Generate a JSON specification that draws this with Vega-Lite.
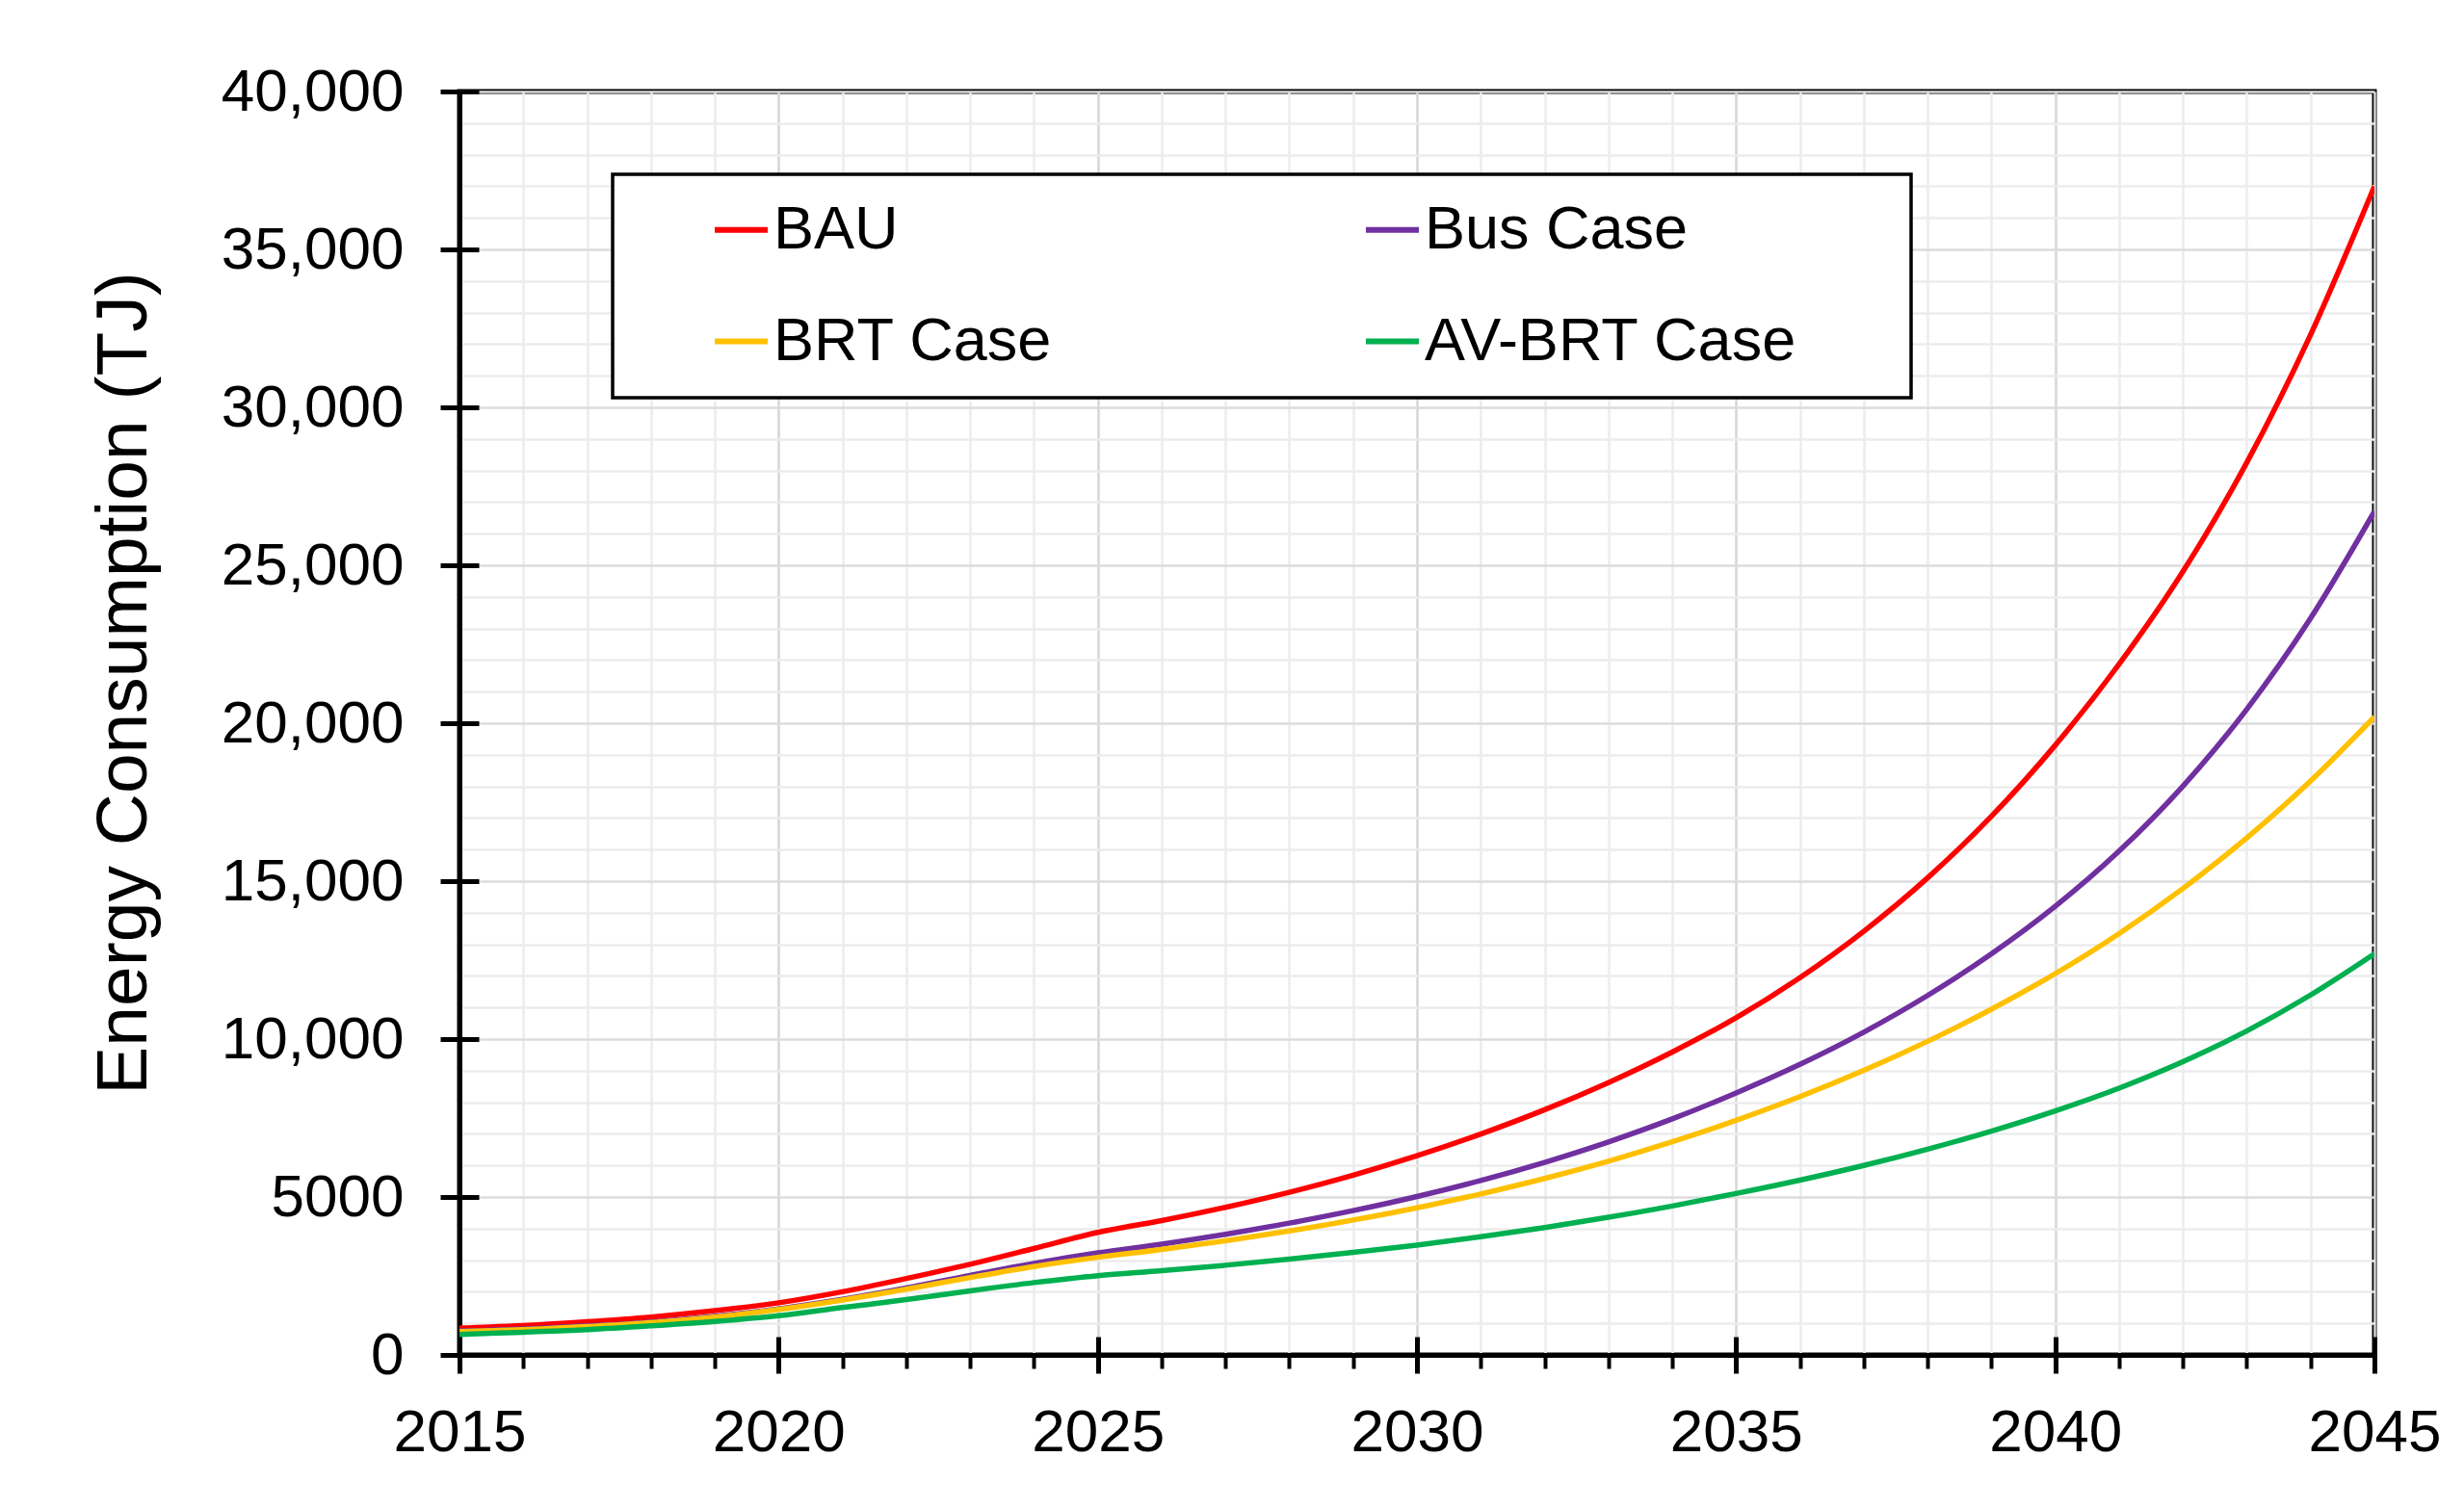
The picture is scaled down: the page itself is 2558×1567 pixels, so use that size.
{
  "$schema": "https://vega.github.io/schema/vega-lite/v6.json",
  "autosize": {"type": "none"},
  "padding": {"left": 477, "top": 95, "right": 93, "bottom": 160},
  "width": 1988,
  "height": 1312,
  "background": "white",
  "config": {
    "view": {"stroke": "black", "strokeWidth": 5},
    "font": "Liberation Sans",
    "axis": {"labelFont": "Liberation Sans", "titleFont": "Liberation Sans", "labelColor": "black", "titleColor": "black", "tickColor": "black", "domainColor": "black"},
    "legend": {"strokeWidth": 3.5}
  },
  "datasets": {
    "energy": [
      {"year": 2015, "series": "BAU", "value": 850}, {"year": 2016, "series": "BAU", "value": 930}, {"year": 2017, "series": "BAU", "value": 1050}, {"year": 2018, "series": "BAU", "value": 1200}, {"year": 2019, "series": "BAU", "value": 1400}, {"year": 2020, "series": "BAU", "value": 1650}, {"year": 2021, "series": "BAU", "value": 2000}, {"year": 2022, "series": "BAU", "value": 2420}, {"year": 2023, "series": "BAU", "value": 2870}, {"year": 2024, "series": "BAU", "value": 3370}, {"year": 2025, "series": "BAU", "value": 3880}, {"year": 2026, "series": "BAU", "value": 4252}, {"year": 2027, "series": "BAU", "value": 4673}, {"year": 2028, "series": "BAU", "value": 5150}, {"year": 2029, "series": "BAU", "value": 5691}, {"year": 2030, "series": "BAU", "value": 6306}, {"year": 2031, "series": "BAU", "value": 6993}, {"year": 2032, "series": "BAU", "value": 7762}, {"year": 2033, "series": "BAU", "value": 8624}, {"year": 2034, "series": "BAU", "value": 9590}, {"year": 2035, "series": "BAU", "value": 10674}, {"year": 2036, "series": "BAU", "value": 11944}, {"year": 2037, "series": "BAU", "value": 13413}, {"year": 2038, "series": "BAU", "value": 15103}, {"year": 2039, "series": "BAU", "value": 17052}, {"year": 2040, "series": "BAU", "value": 19303}, {"year": 2041, "series": "BAU", "value": 21870}, {"year": 2042, "series": "BAU", "value": 24800}, {"year": 2043, "series": "BAU", "value": 28250}, {"year": 2044, "series": "BAU", "value": 32300}, {"year": 2045, "series": "BAU", "value": 37000},
      {"year": 2015, "series": "Bus Case", "value": 760}, {"year": 2016, "series": "Bus Case", "value": 820}, {"year": 2017, "series": "Bus Case", "value": 920}, {"year": 2018, "series": "Bus Case", "value": 1040}, {"year": 2019, "series": "Bus Case", "value": 1220}, {"year": 2020, "series": "Bus Case", "value": 1460}, {"year": 2021, "series": "Bus Case", "value": 1760}, {"year": 2022, "series": "Bus Case", "value": 2120}, {"year": 2023, "series": "Bus Case", "value": 2520}, {"year": 2024, "series": "Bus Case", "value": 2900}, {"year": 2025, "series": "Bus Case", "value": 3230}, {"year": 2026, "series": "Bus Case", "value": 3508}, {"year": 2027, "series": "Bus Case", "value": 3820}, {"year": 2028, "series": "Bus Case", "value": 4172}, {"year": 2029, "series": "Bus Case", "value": 4568}, {"year": 2030, "series": "Bus Case", "value": 5016}, {"year": 2031, "series": "Bus Case", "value": 5523}, {"year": 2032, "series": "Bus Case", "value": 6097}, {"year": 2033, "series": "Bus Case", "value": 6743}, {"year": 2034, "series": "Bus Case", "value": 7472}, {"year": 2035, "series": "Bus Case", "value": 8294}, {"year": 2036, "series": "Bus Case", "value": 9198}, {"year": 2037, "series": "Bus Case", "value": 10219}, {"year": 2038, "series": "Bus Case", "value": 11379}, {"year": 2039, "series": "Bus Case", "value": 12699}, {"year": 2040, "series": "Bus Case", "value": 14204}, {"year": 2041, "series": "Bus Case", "value": 15951}, {"year": 2042, "series": "Bus Case", "value": 18009}, {"year": 2043, "series": "Bus Case", "value": 20440}, {"year": 2044, "series": "Bus Case", "value": 23322}, {"year": 2045, "series": "Bus Case", "value": 26700},
      {"year": 2015, "series": "BRT Case", "value": 740}, {"year": 2016, "series": "BRT Case", "value": 800}, {"year": 2017, "series": "BRT Case", "value": 900}, {"year": 2018, "series": "BRT Case", "value": 1020}, {"year": 2019, "series": "BRT Case", "value": 1200}, {"year": 2020, "series": "BRT Case", "value": 1440}, {"year": 2021, "series": "BRT Case", "value": 1740}, {"year": 2022, "series": "BRT Case", "value": 2080}, {"year": 2023, "series": "BRT Case", "value": 2450}, {"year": 2024, "series": "BRT Case", "value": 2800}, {"year": 2025, "series": "BRT Case", "value": 3090}, {"year": 2026, "series": "BRT Case", "value": 3337}, {"year": 2027, "series": "BRT Case", "value": 3614}, {"year": 2028, "series": "BRT Case", "value": 3925}, {"year": 2029, "series": "BRT Case", "value": 4271}, {"year": 2030, "series": "BRT Case", "value": 4659}, {"year": 2031, "series": "BRT Case", "value": 5097}, {"year": 2032, "series": "BRT Case", "value": 5586}, {"year": 2033, "series": "BRT Case", "value": 6134}, {"year": 2034, "series": "BRT Case", "value": 6747}, {"year": 2035, "series": "BRT Case", "value": 7429}, {"year": 2036, "series": "BRT Case", "value": 8179}, {"year": 2037, "series": "BRT Case", "value": 9009}, {"year": 2038, "series": "BRT Case", "value": 9928}, {"year": 2039, "series": "BRT Case", "value": 10946}, {"year": 2040, "series": "BRT Case", "value": 12073}, {"year": 2041, "series": "BRT Case", "value": 13341}, {"year": 2042, "series": "BRT Case", "value": 14768}, {"year": 2043, "series": "BRT Case", "value": 16370}, {"year": 2044, "series": "BRT Case", "value": 18171}, {"year": 2045, "series": "BRT Case", "value": 20200},
      {"year": 2015, "series": "AV-BRT Case", "value": 650}, {"year": 2016, "series": "AV-BRT Case", "value": 720}, {"year": 2017, "series": "AV-BRT Case", "value": 800}, {"year": 2018, "series": "AV-BRT Case", "value": 920}, {"year": 2019, "series": "AV-BRT Case", "value": 1060}, {"year": 2020, "series": "AV-BRT Case", "value": 1240}, {"year": 2021, "series": "AV-BRT Case", "value": 1500}, {"year": 2022, "series": "AV-BRT Case", "value": 1750}, {"year": 2023, "series": "AV-BRT Case", "value": 2030}, {"year": 2024, "series": "AV-BRT Case", "value": 2290}, {"year": 2025, "series": "AV-BRT Case", "value": 2510}, {"year": 2026, "series": "AV-BRT Case", "value": 2666}, {"year": 2027, "series": "AV-BRT Case", "value": 2839}, {"year": 2028, "series": "AV-BRT Case", "value": 3032}, {"year": 2029, "series": "AV-BRT Case", "value": 3244}, {"year": 2030, "series": "AV-BRT Case", "value": 3478}, {"year": 2031, "series": "AV-BRT Case", "value": 3742}, {"year": 2032, "series": "AV-BRT Case", "value": 4034}, {"year": 2033, "series": "AV-BRT Case", "value": 4357}, {"year": 2034, "series": "AV-BRT Case", "value": 4714}, {"year": 2035, "series": "AV-BRT Case", "value": 5110}, {"year": 2036, "series": "AV-BRT Case", "value": 5534}, {"year": 2037, "series": "AV-BRT Case", "value": 5999}, {"year": 2038, "series": "AV-BRT Case", "value": 6515}, {"year": 2039, "series": "AV-BRT Case", "value": 7088}, {"year": 2040, "series": "AV-BRT Case", "value": 7727}, {"year": 2041, "series": "AV-BRT Case", "value": 8446}, {"year": 2042, "series": "AV-BRT Case", "value": 9282}, {"year": 2043, "series": "AV-BRT Case", "value": 10256}, {"year": 2044, "series": "AV-BRT Case", "value": 11395}, {"year": 2045, "series": "AV-BRT Case", "value": 12700}
    ]
  },
  "data": {"name": "energy"},
  "resolve": {"axis": {"x": "independent", "y": "independent"}},
  "layer": [
    {
      "mark": {"type": "line", "strokeOpacity": 0, "interpolate": "monotone"},
      "encoding": {
        "x": {"field": "year", "type": "quantitative", "scale": {"domain": [2015, 2045], "nice": false, "zero": false},
          "axis": {"orient": "bottom", "title": null, "labels": false, "domain": false, "values": [2016, 2017, 2018, 2019, 2021, 2022, 2023, 2024, 2026, 2027, 2028, 2029, 2031, 2032, 2033, 2034, 2036, 2037, 2038, 2039, 2041, 2042, 2043, 2044], "tickSize": 14, "tickWidth": 4, "grid": true, "gridColor": "#ececec", "gridWidth": 2.5}},
        "y": {"field": "value", "type": "quantitative", "scale": {"domain": [0, 40000], "nice": false},
          "axis": {"orient": "left", "title": null, "labels": false, "domain": false, "ticks": false, "values": [1000, 2000, 3000, 4000, 6000, 7000, 8000, 9000, 11000, 12000, 13000, 14000, 16000, 17000, 18000, 19000, 21000, 22000, 23000, 24000, 26000, 27000, 28000, 29000, 31000, 32000, 33000, 34000, 36000, 37000, 38000, 39000], "grid": true, "gridColor": "#ececec", "gridWidth": 2.5}},
        "detail": {"field": "series"}
      }
    },
    {
      "mark": {"type": "line", "strokeOpacity": 0, "interpolate": "monotone"},
      "encoding": {
        "x": {"field": "year", "type": "quantitative",
          "axis": {"orient": "bottom", "title": null, "labels": false, "domain": false, "values": [2015, 2020, 2025, 2030, 2035, 2040, 2045], "tickSize": -19, "tickWidth": 5, "grid": true, "gridColor": "#d6d6d6", "gridWidth": 2.5}},
        "y": {"field": "value", "type": "quantitative",
          "axis": {"orient": "left", "title": null, "labels": false, "domain": false, "values": [0, 5000, 10000, 15000, 20000, 25000, 30000, 35000, 40000], "tickSize": -20, "tickWidth": 5, "grid": true, "gridColor": "#dcdcdc", "gridWidth": 2.5}},
        "detail": {"field": "series"}
      }
    },
    {
      "mark": {"type": "line", "strokeWidth": 5.5, "interpolate": "monotone", "clip": true},
      "encoding": {
        "x": {"field": "year", "type": "quantitative",
          "axis": {"orient": "bottom", "title": null, "values": [2015, 2020, 2025, 2030, 2035, 2040, 2045], "format": "d", "labelFontSize": 62, "labelPadding": 31, "labelFlush": false, "labelOverlap": false, "tickSize": 19, "tickWidth": 5, "domainWidth": 5, "grid": false}},
        "y": {"field": "value", "type": "quantitative",
          "axis": {"orient": "left", "title": "Energy Consumption (TJ)", "values": [0, 5000, 10000, 15000, 20000, 25000, 30000, 35000, 40000], "labelExpr": "datum.value >= 10000 ? format(datum.value, ',') : format(datum.value, 'd')", "labelFontSize": 62, "labelPadding": 38, "labelLimit": 500, "labelOverlap": false, "labelFlush": false, "tickSize": 20, "tickWidth": 5, "domainWidth": 5, "grid": false, "titleFontSize": 75, "titleFontWeight": "normal", "titleAngle": 270, "titleAlign": "center", "titleBaseline": "alphabetic", "titleX": -326, "titleY": 614}},
        "color": {"field": "series", "type": "nominal", "sort": ["BAU", "Bus Case", "BRT Case", "AV-BRT Case"],
          "scale": {"domain": ["BAU", "Bus Case", "BRT Case", "AV-BRT Case"], "range": ["#FF0000", "#7030A0", "#FFC000", "#00B050"]},
          "legend": {"orient": "none", "direction": "horizontal", "legendX": 159, "legendY": 86, "columns": 2, "title": " ", "titleOrient": "right", "titleFontSize": 1, "titlePadding": 93, "symbolType": "stroke", "symbolSize": 3025, "symbolStrokeWidth": 6, "symbolOffset": 76, "labelOffset": 2, "labelFont": "Liberation Sans", "labelFontSize": 63, "labelColor": "black", "labelLimit": 1000, "rowPadding": 52, "columnPadding": 245, "padding": 26, "strokeColor": "black", "fillColor": "white"}}
      }
    }
  ]
}
